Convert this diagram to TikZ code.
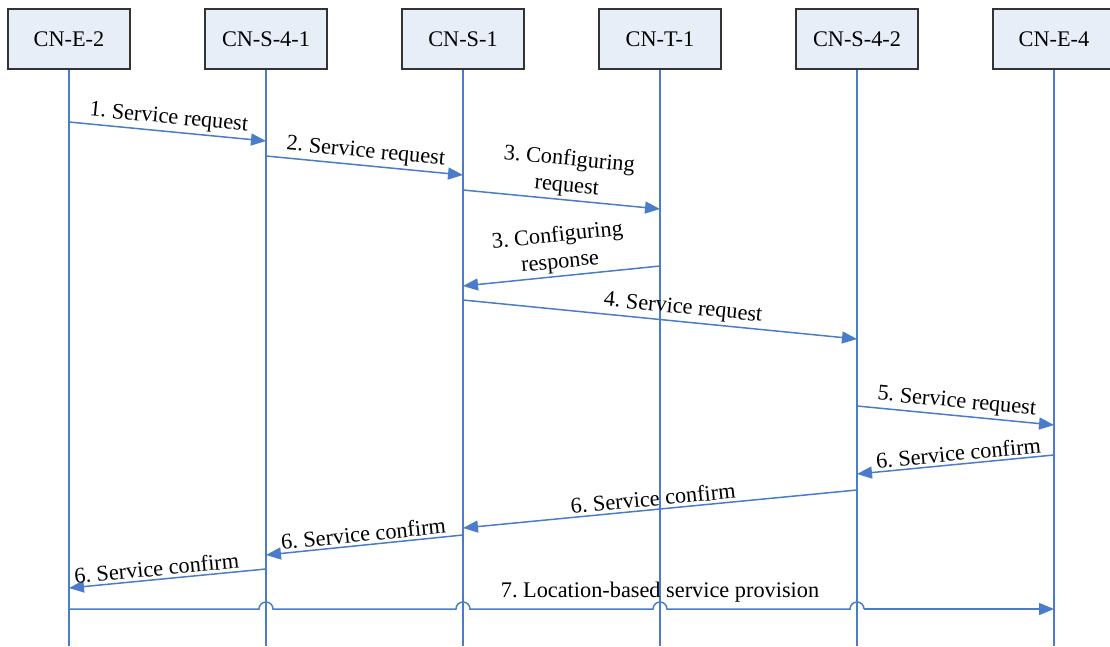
\documentclass[tikz,border=0pt]{standalone}
\usepackage{fontspec}
\setmainfont{Liberation Serif}
\usetikzlibrary{arrows.meta,calc}
\frenchspacing
\definecolor{lineblue}{HTML}{4A7CC9}
\definecolor{boxfill}{HTML}{E8EEF8}
\definecolor{boxline}{HTML}{333333}
\tikzset{
  entity/.style={draw=boxline, fill=boxfill, line width=1.3pt, minimum width=122pt,
    minimum height=60pt, inner sep=0pt, font=\fontsize{22.3}{26}\selectfont},
  lifeline/.style={draw=lineblue, line width=1.4pt},
  msg/.style={draw=lineblue, line width=1.5pt, -{Triangle[length=15pt,width=12pt]}},
  plainmsg/.style={draw=lineblue, line width=1.5pt},
  lbl/.style={font=\fontsize{22.3}{26.5}\selectfont, text=black, align=center, inner sep=2.5pt},
}
\begin{document}
\begin{tikzpicture}[x=1pt,y=-1pt]
\useasboundingbox (0,0) rectangle (1110,646);

% participants
\node[entity] (e2)  at (69,39)   {CN-E-2};
\node[entity] (s41) at (266,39)  {CN-S-4-1};
\node[entity] (s1)  at (463,39)  {CN-S-1};
\node[entity] (t1)  at (660,39)  {CN-T-1};
\node[entity] (s42) at (857,39)  {CN-S-4-2};
\node[entity] (e4)  at (1054,39) {CN-E-4};

% lifelines
\foreach \p in {e2,s41,s1,t1,s42,e4}{
  \coordinate (\p-end) at (\p |- 0,646);
  \draw[lifeline] (\p.south) -- (\p-end);
}

% messages
\draw[msg] (e2 |- 0,122) -- node[lbl, sloped, above, pos=0.5] {1. Service request} (s41 |- 0,141);
\draw[msg] (s41 |- 0,156) -- node[lbl, sloped, above] {2. Service request} (s1 |- 0,175);
\draw[msg] (s1 |- 0,190) -- node[lbl, sloped, above, xshift=4pt] {3. Configuring\\request} (t1 |- 0,209);
\draw[msg] (t1 |- 0,266) -- node[lbl, sloped, above] {3. Configuring\\response} (s1 |- 0,286);
\draw[msg] (s1 |- 0,300) -- node[lbl, sloped, above, pos=0.555] {4. Service request} (s42 |- 0,339);
\draw[msg] (s42 |- 0,406) -- node[lbl, sloped, above] {5. Service request} (e4 |- 0,425);
\draw[msg] (e4 |- 0,455) -- node[lbl, sloped, above, pos=0.48] {6. Service confirm} (s42 |- 0,474);
\draw[msg] (s42 |- 0,490) -- node[lbl, sloped, above, pos=0.515] {6. Service confirm} (s1 |- 0,528);
\draw[msg] (s1 |- 0,535) -- node[lbl, sloped, above] {6. Service confirm} (s41 |- 0,555);
\draw[msg] (s41 |- 0,569) -- node[lbl, sloped, above, pos=0.55] {6. Service confirm} (e2 |- 0,588);

% final message, hopping over the lifelines it crosses
\coordinate (h1) at (s41 |- 0,609);
\coordinate (h2) at (s1 |- 0,609);
\coordinate (h3) at (t1 |- 0,609);
\coordinate (h4) at (s42 |- 0,609);
\draw[plainmsg] (e2 |- 0,609)
  -- ($(h1)+(-7,0)$) arc[start angle=180, end angle=0, radius=7pt]
  -- ($(h2)+(-7,0)$) arc[start angle=180, end angle=0, radius=7pt]
  -- ($(h3)+(-7,0)$) arc[start angle=180, end angle=0, radius=7pt]
  -- ($(h4)+(-7,0)$) arc[start angle=180, end angle=0, radius=7pt]
  -- ($(h4)+(7,0)$);
\draw[msg] ($(h4)+(7,0)$) -- (e4 |- 0,609);
\node[lbl, above=4pt] (l7) at (h3) {7. Location-based service provision};
\end{tikzpicture}
\end{document}
